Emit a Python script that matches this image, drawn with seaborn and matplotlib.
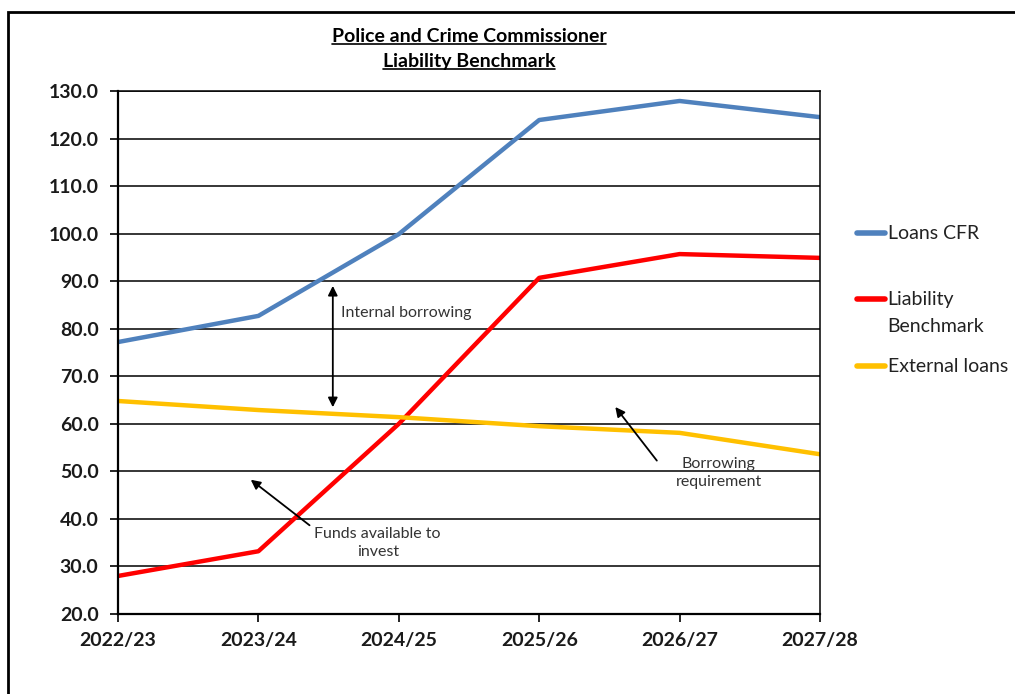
import matplotlib
matplotlib.use("Agg")
import matplotlib.pyplot as plt
import seaborn as sns
import pandas as pd
from matplotlib.lines import Line2D
from matplotlib.patches import Rectangle

years = ["2022/23", "2023/24", "2024/25", "2025/26", "2026/27", "2027/28"]
loans_cfr = [77.2, 82.7, 99.9, 123.9, 127.9, 124.5]
liability_benchmark = [28.0, 33.2, 60.0, 90.7, 95.7, 94.9]
external_loans = [64.8, 62.9, 61.4, 59.5, 58.1, 53.6]
series_names = ["Loans CFR", "Liability Benchmark", "External loans"]
series_colors = ["#4F81BD", "#FF0000", "#FFC000"]
y_ticks = [20, 30, 40, 50, 60, 70, 80, 90, 100, 110, 120, 130]

df = pd.concat([
    pd.DataFrame({"year": years, "value": vals, "series": name})
    for name, vals in zip(series_names, [loans_cfr, liability_benchmark, external_loans])
], ignore_index=True)

sns.set_theme(style="white")
plt.rcParams["font.family"] = ["Lato", "DejaVu Sans"]

fig = plt.figure(figsize=(10.15, 6.94), dpi=100)
ax = fig.add_axes([118/1015, 1-614/694, (820-118)/1015, (614-91)/694])

sns.lineplot(data=df, x="year", y="value", hue="series", hue_order=series_names,
             palette=series_colors, linewidth=3.2, ax=ax, sort=False, legend=True)

ax.set_xlim(0, len(years)-1)
ax.set_ylim(20, 130)
ax.set_yticks(y_ticks)
ax.set_yticklabels([f"{v:.1f}" for v in y_ticks])
ax.set_xlabel("")
ax.set_ylabel("")
ax.grid(axis="y", color="black", linewidth=1.1)
ax.set_axisbelow(True)
for s in ax.spines.values():
    s.set_color("black")
    s.set_linewidth(1.1)
ax.spines["left"].set_linewidth(1.6)
ax.spines["bottom"].set_linewidth(1.6)
ax.tick_params(axis="y", direction="out", length=6, width=1.2, pad=8, colors="black", labelsize=14)
ax.tick_params(axis="x", direction="out", length=6, width=1.2, pad=7, colors="black", labelsize=14)
ax.tick_params(left=True, bottom=True)
for lab in ax.get_xticklabels() + ax.get_yticklabels():
    lab.set_fontweight("bold")
    lab.set_color("#1a1a1a")

# legend: one entry per legend so rows sit where the reference puts them
handles, labels = ax.get_legend_handles_labels()
ax.get_legend().remove()
legend_rows_px = [234, 300, 367]
legend_fs = 14
legs = []
for h, lab, ypx in zip(handles, labels, legend_rows_px):
    shown = "Liability" if lab.startswith("Liability") else lab
    lg = fig.legend([h], [shown], loc="center left", bbox_to_anchor=(857/1015, 1-ypx/694),
                    frameon=False, fontsize=legend_fs, handlelength=1.45, handletextpad=0.12,
                    borderaxespad=0, borderpad=0)
    for t in lg.get_texts():
        t.set_color("#222222")
    for lh in lg.legend_handles:
        lh.set_linewidth(4)
        lh.set_solid_capstyle("round")
    legs.append(lg)

# annotations
ann_kw = dict(fontsize=11.5, color="#333333")
ax.annotate("", xy=(1.53, 89.6), xytext=(1.53, 62.9),
            arrowprops=dict(arrowstyle="<|-|>", color="black", lw=1.3, mutation_scale=14))
ax.text(1.59, 83.3, "Internal borrowing", ha="left", va="center", **ann_kw)
ax.annotate("", xy=(0.93, 48.6), xytext=(1.38, 38.3),
            arrowprops=dict(arrowstyle="-|>", color="black", lw=1.3, mutation_scale=14))
ax.text(1.85, 34.9, "Funds available to\ninvest", ha="center", va="center", linespacing=1.35, **ann_kw)
ax.annotate("", xy=(3.53, 64.0), xytext=(3.85, 51.8),
            arrowprops=dict(arrowstyle="-|>", color="black", lw=1.3, mutation_scale=14))
ax.text(4.28, 49.7, "Borrowing\nrequirement", ha="center", va="center", linespacing=1.35, **ann_kw)

# title with underline
t1 = fig.text(469/1015, 1-37/694, "Police and Crime Commissioner", ha="center", va="center",
              fontsize=14, fontweight="bold", color="black")
t2 = fig.text(469/1015, 1-62/694, "Liability Benchmark", ha="center", va="center",
              fontsize=14, fontweight="bold", color="black")
fig.canvas.draw()
r = fig.canvas.get_renderer()
inv = fig.transFigure.inverted()
for t in (t1, t2):
    bb = t.get_window_extent(r)
    (x0, y0), (x1, y1) = inv.transform([(bb.x0, bb.y0), (bb.x1, bb.y0)])
    fig.add_artist(Line2D([x0, x1], [y0 + 1.5/694, y0 + 1.5/694], color="black", lw=1.2,
                          transform=fig.transFigure))

# second line of the "Liability Benchmark" legend label
lt = legs[1].get_texts()[0]
lbb = lt.get_window_extent(r)
lx = inv.transform([(lbb.x0, lbb.y0)])[0][0]
fig.text(lx, 1-327/694, "Benchmark", ha="left", va="center", fontsize=legend_fs, color="#222222")

# outer border
fig.add_artist(Rectangle((8/1015, -0.05), 1.1, 1.05 - 12/694, transform=fig.transFigure,
                         fill=False, edgecolor="black", linewidth=2))

fig.savefig("out.png", dpi=100)
